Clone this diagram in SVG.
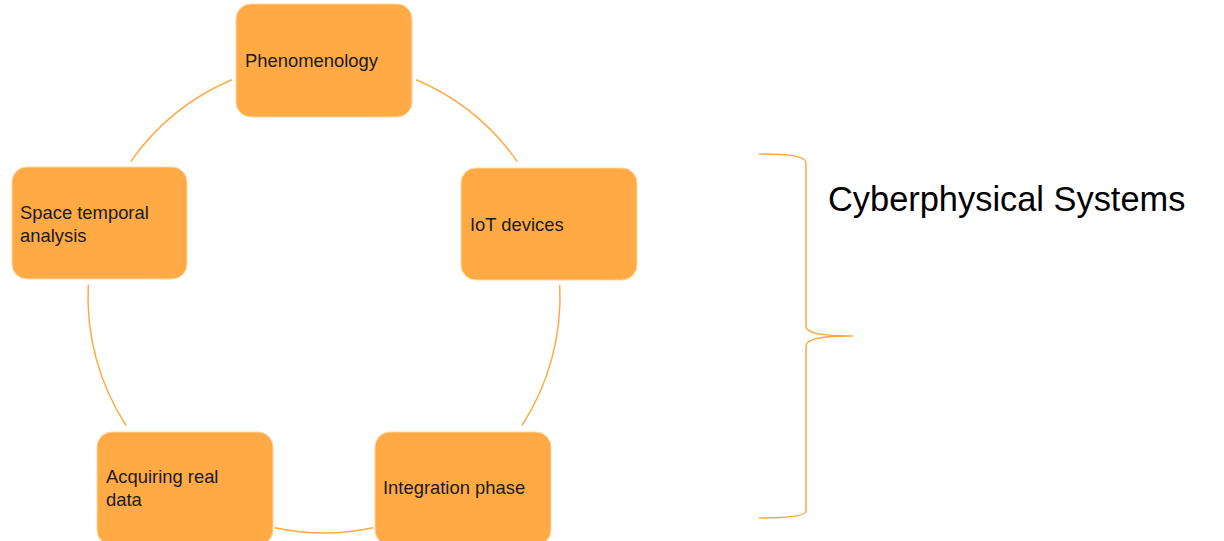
<svg xmlns="http://www.w3.org/2000/svg" width="1224" height="541" viewBox="0 0 1224 541">
<style>
.box{fill:#FFAA44;stroke:#FFD6A0;stroke-width:1}
.lbl{font-family:"Liberation Sans",Arial,sans-serif;font-size:18.4px;fill:#1a1a1a}
.arc{fill:none;stroke:#FFAA44;stroke-width:1.5}
.title{font-family:"Liberation Sans",Arial,sans-serif;font-size:34.4px;fill:#000}
</style>
<rect width="1224" height="541" fill="#fff"/>
<g id="connectors">
<path class="arc" d="M416.2,79.8 A236,236 0 0 1 517.3,161.6"/>
<path class="arc" d="M559.7,284.7 A236,236 0 0 1 521.9,425.5"/>
<path class="arc" d="M373.1,527.8 A236,236 0 0 1 274.9,527.8"/>
<path class="arc" d="M126.1,425.5 A236,236 0 0 1 88.3,284.7"/>
<path class="arc" d="M130.7,161.6 A236,236 0 0 1 231.8,79.8"/>
</g>
<g id="phenomenology">
<rect class="box" x="236" y="4" width="176" height="113" rx="15"/>
<text class="lbl" x="245" y="67">Phenomenology</text>
</g>
<g id="iot">
<rect class="box" x="461" y="168" width="176" height="112" rx="15"/>
<text class="lbl" x="470" y="231">IoT devices</text>
</g>
<g id="integration">
<rect class="box" x="375" y="432" width="176" height="113" rx="15"/>
<text class="lbl" x="383" y="494">Integration phase</text>
</g>
<g id="acquiring">
<rect class="box" x="97" y="432" width="176" height="113" rx="15"/>
<text class="lbl" x="106" y="483">Acquiring real</text>
<text class="lbl" x="106" y="506">data</text>
</g>
<g id="space">
<rect class="box" x="12" y="167" width="175" height="112" rx="15"/>
<text class="lbl" x="20" y="219">Space temporal</text>
<text class="lbl" x="20" y="242">analysis</text>
</g>
<g id="brace">
<path class="arc" d="M759,154 C790,154 806,156 806,163 L806,326 C806,333 820,336 853,336 C820,336 806,339 806,346 L806,511 C806,516 790,518 759,518"/>
<text class="title" x="828" y="211">Cyberphysical Systems</text>
</g>
</svg>
